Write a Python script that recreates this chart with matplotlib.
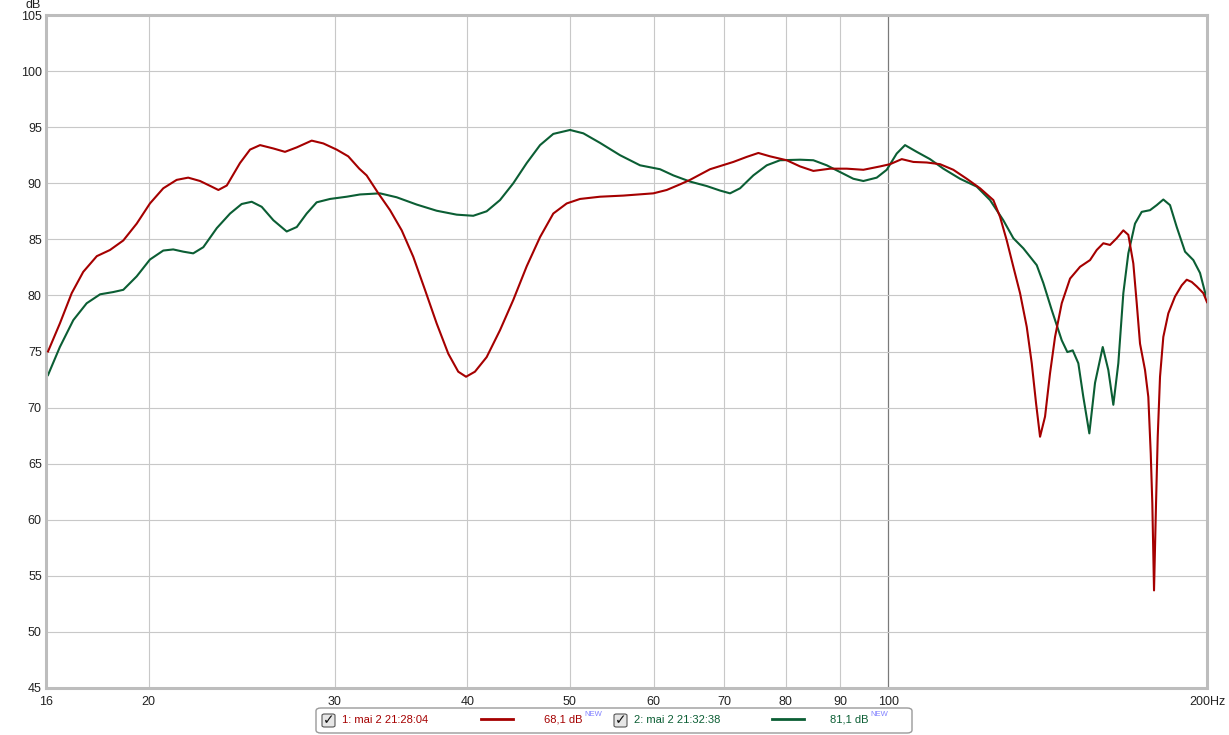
import matplotlib
matplotlib.use("Agg")
import matplotlib.pyplot as plt
from matplotlib.patches import FancyBboxPatch
from matplotlib.lines import Line2D

plt.rcParams['font.family'] = ['Liberation Sans', 'DejaVu Sans']

freq_red = [16.07, 16.49, 16.92, 17.35, 17.87, 18.39, 18.93, 19.49, 20.06, 20.65,
            21.26, 21.8, 22.37, 22.94, 23.28, 23.71, 24.4, 24.94, 25.49, 26.24, 26.91,
            27.61, 28.52, 29.25, 30.11, 30.88, 31.63, 32.14, 32.97, 33.82, 34.69,
            35.57, 36.49, 37.43, 38.39, 39.23, 39.9, 40.68, 41.73, 42.96, 44.22,
            45.53, 46.87, 48.24, 49.67, 51.13, 53.4, 56.18, 59.97, 61.74, 63.55,
            64.95, 67.84, 71.37, 73.48, 75.36, 77.3, 80.16, 82.52, 84.94, 88.08,
            91.34, 94.7, 98.2, 100.36, 102.95, 105.58, 108.7, 111.89, 115.18, 118.59,
            122.07, 125.65, 127.5, 129.37, 131.24, 133.17, 135.12, 136.6, 137.88,
            139.09, 140.61, 142.14, 143.7, 145.81, 148.47, 151.73, 155.07, 157.34,
            159.62, 161.96, 164.34, 166.72, 168.54, 170.38, 171.65, 172.88, 174.77,
            176.03, 176.96, 177.57, 178.23, 179.01, 179.67, 180.57, 181.87, 183.86,
            186.56, 189.3, 191.37, 193.46, 195.58, 198.41, 200.0]
db_red = [75.0, 77.5, 80.2, 82.1, 83.5, 84.05, 84.9, 86.4, 88.2, 89.55,
          90.3, 90.5, 90.2, 89.7, 89.4, 89.8, 91.8, 93.0, 93.4, 93.1, 92.8,
          93.2, 93.8, 93.55, 93.0, 92.4, 91.3, 90.7, 89.1, 87.6, 85.8,
          83.45, 80.5, 77.5, 74.8, 73.2, 72.75, 73.2, 74.5, 76.9, 79.6,
          82.6, 85.2, 87.3, 88.2, 88.6, 88.8, 88.9, 89.1, 89.4, 89.9,
          90.3, 91.25, 91.9, 92.35, 92.7, 92.4, 92.05, 91.5, 91.1, 91.3,
          91.3, 91.2, 91.5, 91.7, 92.15, 91.9, 91.85, 91.7, 91.2, 90.4,
          89.55, 88.5, 87.0, 84.9, 82.55, 80.2, 77.2, 73.95, 70.4,
          67.4, 69.2, 73.05, 76.3, 79.3, 81.5, 82.55, 83.15, 84.05,
          84.65, 84.5, 85.1, 85.8, 85.4, 82.85, 79.3, 75.7, 73.35,
          70.95, 65.9, 61.45, 53.7, 61.45, 67.4, 72.75, 76.3, 78.4,
          79.9, 80.9, 81.4, 81.2, 80.8, 80.2, 79.4]

# measurement 2 (green)
freq_green = [16.07, 16.49, 16.98, 17.48, 18.0, 18.52, 18.93, 19.49, 20.06, 20.65,
              21.1, 21.57, 22.04, 22.53, 23.2, 23.88, 24.49, 25.03, 25.58, 26.24, 27.01,
              27.61, 28.21, 28.83, 29.68, 30.78, 31.68, 33.09, 34.31, 35.84, 37.43,
              39.1, 40.53, 41.73, 42.96, 44.22, 45.53, 46.87, 48.24, 50.03, 51.5,
              53.4, 55.78, 58.26, 60.85, 62.64, 64.95, 67.36, 69.33, 70.86, 72.42,
              74.54, 76.75, 79.0, 82.52, 84.94, 87.45, 90.02, 92.66, 94.7, 97.5,
              99.64, 101.83, 103.69, 106.36, 109.48, 112.7, 116.87, 121.19, 124.75,
              128.41, 131.24, 134.12, 138.09, 140.09, 142.67, 145.81, 147.6, 149.34,
              151.17, 152.82, 154.83, 156.76, 159.41, 161.36, 163.13, 164.91, 166.72,
              168.54, 171.01, 173.52, 176.69, 179.28, 181.87, 184.54, 187.25, 190.67,
              194.14, 196.99, 200.0]
db_green = [72.9, 75.4, 77.8, 79.3, 80.1, 80.3, 80.5, 81.7, 83.2, 84.0,
            84.1, 83.9, 83.75, 84.3, 86.0, 87.3, 88.15, 88.35, 87.9, 86.7, 85.7,
            86.1, 87.3, 88.3, 88.6, 88.8, 89.0, 89.1, 88.75, 88.1, 87.55,
            87.2, 87.1, 87.5, 88.5, 90.0, 91.8, 93.4, 94.4, 94.75, 94.45,
            93.6, 92.5, 91.6, 91.25, 90.7, 90.15, 89.75, 89.35, 89.1, 89.55,
            90.7, 91.6, 92.05, 92.1, 92.05, 91.6, 91.0, 90.4, 90.2, 90.5,
            91.2, 92.65, 93.4, 92.8, 92.15, 91.3, 90.4, 89.7, 88.5,
            86.7, 85.1, 84.2, 82.7, 81.1, 78.7, 76.0, 74.95, 75.1,
            73.95, 70.95, 67.7, 72.2, 75.4, 73.35, 70.25, 73.95, 80.2,
            83.75, 86.4, 87.45, 87.6, 88.05, 88.55, 88.05, 86.1, 83.9,
            83.15, 82.0, 79.6]

x_ticks = [16, 20, 30, 40, 50, 60, 70, 80, 90, 100, 200]
x_labels = ['16', '20', '30', '40', '50', '60', '70', '80', '90', '100', '200Hz']
y_ticks = list(range(45, 106, 5))

red = '#a50000'
green = '#0b5e34'

W, H = 1229, 735
fig = plt.figure(figsize=(W / 100, H / 100), dpi=100)
ax = fig.add_axes([46 / W, (H - 688) / H, 1161 / W, 673 / H])
ax.set_xscale('log')
ax.set_xlim(16, 200)
ax.set_ylim(45, 105)

# grid
for f in [20, 30, 40, 50, 60, 70, 80, 90]:
    ax.axvline(f, color='#c8c8c8', lw=0.8, zorder=0)
ax.axvline(100, color='#7a7a7a', lw=0.9, zorder=0)
for v in y_ticks[1:-1]:
    ax.axhline(v, color='#c8c8c8', lw=0.8, zorder=0)

ax.plot(freq_red, db_red, color=red, lw=1.5, zorder=3, solid_joinstyle='round')
ax.plot(freq_green, db_green, color=green, lw=1.5, zorder=2, solid_joinstyle='round')

for s in ax.spines.values():
    s.set_color('#bdbdbd')
    s.set_linewidth(2.2)

ax.set_xticks(x_ticks)
ax.set_xticklabels(x_labels)
ax.xaxis.set_minor_locator(matplotlib.ticker.NullLocator())
ax.set_yticks(y_ticks)
ax.tick_params(length=0, labelsize=9, colors='#222222')
ax.tick_params(axis='x', pad=6)
ax.tick_params(axis='y', pad=3)
ax.text(-0.004, 1.006, 'dB', transform=ax.transAxes, ha='right', va='bottom',
        fontsize=9, color='#222222')

# legend box at the bottom
def px(x, y):
    return x / W, 1 - y / H

legend = FancyBboxPatch(px(316, 733), 596 / W, 25 / H, boxstyle='round,pad=0,rounding_size=0.004',
                        transform=fig.transFigure, facecolor='white', edgecolor='#9a9a9a', lw=1.0)
fig.patches.append(legend)

entries = [(322, '1: mai 2 21:28:04', red, 481, 583, '68,1 dB'),
           (614, '2: mai 2 21:32:38', green, 772, 869, '81,1 dB')]
for cx, name, col, lx, vx, val in entries:
    bx, by = px(cx, 727)
    fig.patches.append(FancyBboxPatch((bx, by), 13 / W, 13 / H, boxstyle='round,pad=0,rounding_size=0.002',
                                      transform=fig.transFigure, facecolor='#e6e6e6',
                                      edgecolor='#555555', lw=0.8))
    fig.text(*px(cx + 6.5, 720.5), '✓', ha='center', va='center', fontsize=10,
             color='#111111', family=['DejaVu Sans'], weight='bold')
    fig.text(*px(cx + 20, 720), name, ha='left', va='center', fontsize=8, color=col)
    x0, yl = px(lx, 719)
    x1, _ = px(lx + 32, 719)
    fig.lines.append(Line2D([x0, x1], [yl, yl], transform=fig.transFigure, color=col, lw=2))
    fig.text(*px(vx, 720), val, ha='right', va='center', fontsize=8, color=col)
    fig.text(*px(vx + 1, 715), 'NEW', ha='left', va='center', fontsize=5.5, color='#8080ff')

fig.savefig('out.png', dpi=100, facecolor='white')
